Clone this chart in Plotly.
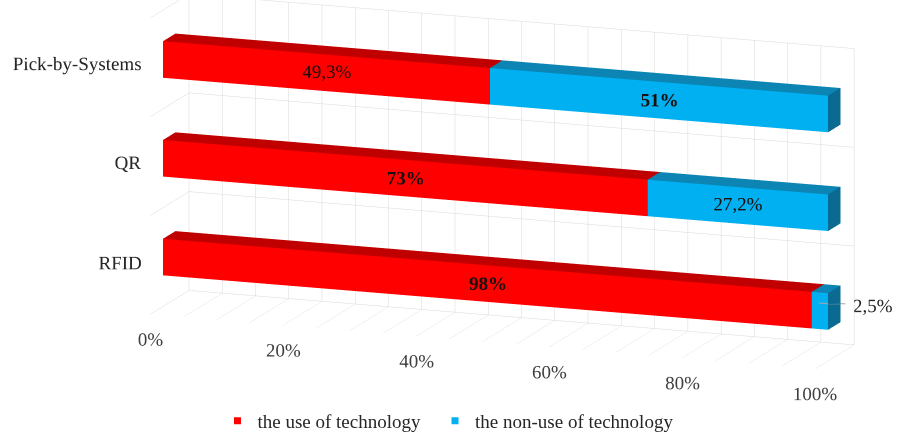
import numpy as np
import plotly.graph_objects as go

# ---------------- data ----------------
categories = ["RFID", "QR", "Pick-by-Systems"]
use_vals = [98, 73, 49.3]
nonuse_vals = [2.5, 27.2, 51]
use_labels = ["98%", "73%", "49,3%"]
nonuse_labels = ["2,5%", "27,2%", "51%"]
use_bold = [True, True, False]
nonuse_bold = [False, False, True]
x_tick_vals = [0, 20, 40, 60, 80, 100]
x_tick_text = ["0%", "20%", "40%", "60%", "80%", "100%"]
series_names = ["the use of technology", "the non-use of technology"]

FONT = "Liberation Serif, Times New Roman, serif"
RED = dict(front="#FF0000", top="#C00000", side="#A00000")
BLUE = dict(front="#00B0F0", top="#0C84B4", side="#0A6A92")

K_SCALE = 1.28
ASP = dict(x=2.56 * K_SCALE, y=0.41 * K_SCALE, z=1.10 * K_SCALE)
XR, YR, ZR = (0, 100), (0, 1), (0, 3)
BAR_Y = (0.33, 0.65)   # depth span of bars
BAR_HALF = 0.185       # half height of bars in category units

# camera (orthographic)
AZ, EL = np.radians(20.0), np.radians(13.0)
direction = np.array([np.sin(AZ) * np.cos(EL), -np.cos(AZ) * np.cos(EL), np.sin(EL)])
right_v = np.cross(-direction, [0, 0, 1]); right_v /= np.linalg.norm(right_v)
up_v = np.cross(right_v, -direction); up_v /= np.linalg.norm(up_v)
dist = 2.0
center = -0.23 * right_v - 0.16 * up_v
eye = center + direction * dist


def slide(x, y, z, y_target):
    """slide a point along the line of sight (same screen spot) to depth y_target."""
    dys = (y_target - y) / (YR[1] - YR[0]) * ASP["y"]
    s = dys / direction[1]
    return (x + s * direction[0] / ASP["x"] * (XR[1] - XR[0]),
            y_target,
            z + s * direction[2] / ASP["z"] * (ZR[1] - ZR[0]))


def box_mesh(segs, col):
    xs, ys, zs, I, J, K, fc = [], [], [], [], [], [], []
    faces = [((0, 1, 5), "front"), ((0, 5, 4), "front"),
             ((3, 2, 6), "side"), ((3, 6, 7), "side"),
             ((0, 1, 2), "side"), ((0, 2, 3), "side"),
             ((4, 5, 6), "top"), ((4, 6, 7), "top"),
             ((0, 3, 7), "side"), ((0, 7, 4), "side"),
             ((1, 2, 6), "side"), ((1, 6, 5), "side")]
    for (x0, x1, zc_) in segs:
        y0, y1 = BAR_Y
        z0, z1 = zc_ - BAR_HALF, zc_ + BAR_HALF
        base = len(xs)
        for (a, b, c) in [(x0, y0, z0), (x1, y0, z0), (x1, y1, z0), (x0, y1, z0),
                          (x0, y0, z1), (x1, y0, z1), (x1, y1, z1), (x0, y1, z1)]:
            xs.append(a); ys.append(b); zs.append(c)
        for (t, kind) in faces:
            I.append(base + t[0]); J.append(base + t[1]); K.append(base + t[2])
            fc.append(col[kind])
    return go.Mesh3d(x=xs, y=ys, z=zs, i=I, j=J, k=K, facecolor=fc,
                     flatshading=True, hoverinfo="skip", showlegend=False,
                     lighting=dict(ambient=1, diffuse=0, specular=0, roughness=1, fresnel=0))


totals = [u + n for u, n in zip(use_vals, nonuse_vals)]
use_pct = [u / t * 100 for u, t in zip(use_vals, totals)]
zc = [i + 0.5 for i in range(len(categories))]

red_segs = [(0, p, z) for p, z in zip(use_pct, zc)]
blue_segs = [(p, 100, z) for p, z in zip(use_pct, zc)]

fig = go.Figure()
fig.add_trace(box_mesh(red_segs, RED))
fig.add_trace(box_mesh(blue_segs, BLUE))

# data labels
lab = {"bold": dict(x=[], y=[], z=[], t=[]), "normal": dict(x=[], y=[], z=[], t=[])}
out_lab = dict(x=[], y=[], z=[], t=[])
lead = dict(x=[], y=[], z=[])
YF = 0.01
YB = 0.99


def add_lab(key, x, z, t):
    px, py, pz = slide(x, BAR_Y[0], z, YF)
    lab[key]["x"].append(px); lab[key]["y"].append(py); lab[key]["z"].append(pz)
    lab[key]["t"].append(t)


for k in range(len(categories)):
    p = use_pct[k]
    add_lab("bold" if use_bold[k] else "normal", p / 2, zc[k], use_labels[k])
    share = 100 - p
    if share < 5:
        zl = zc[k] + 0.08
        # part over the front face (just in front of it)
        lead["x"] += [p + share * 0.45, 100, None]
        lead["y"] += [BAR_Y[0] - 0.005, BAR_Y[0] - 0.005, None]
        lead["z"] += [zl, zl, None]
        # part over the end face (x = 100 plane), kept level on screen
        dy = 0.45
        lead["x"] += [100, 100, None]
        lead["y"] += [BAR_Y[0] - 0.005, BAR_Y[0] - 0.005 + dy, None]
        lead["z"] += [zl, zl - dy * (ASP["y"] / (YR[1] - YR[0])) * up_v[1] /
                      (ASP["z"] / (ZR[1] - ZR[0])) / up_v[2], None]
        c = slide(101.0, BAR_Y[0], zc[k] + 0.05, YB)
        out_lab["x"].append(min(c[0], 99.95)); out_lab["y"].append(c[1]); out_lab["z"].append(c[2])
        out_lab["t"].append(nonuse_labels[k])
    else:
        add_lab("bold" if nonuse_bold[k] else "normal", p + share / 2, zc[k], nonuse_labels[k])

for key, d in lab.items():
    fig.add_trace(go.Scatter3d(x=d["x"], y=d["y"], z=d["z"], text=d["t"], mode="text",
                               textposition="middle center", hoverinfo="skip", showlegend=False,
                               textfont=dict(family=FONT, size=19, color="#1a1010", weight=key)))
fig.add_trace(go.Scatter3d(x=lead["x"], y=lead["y"], z=lead["z"], mode="lines",
                           line=dict(color="#A6A6A6", width=2), hoverinfo="skip", showlegend=False))
fig.add_trace(go.Scatter3d(x=out_lab["x"], y=out_lab["y"], z=out_lab["z"], text=out_lab["t"],
                           mode="text", textposition="middle right", hoverinfo="skip", showlegend=False,
                           textfont=dict(family=FONT, size=19, color="#262626")))

# category labels (anchored on the left wall, a little behind its front edge)
fig.add_trace(go.Scatter3d(x=[0.001] * len(categories), y=[0.25] * len(categories),
                           z=[z - 0.04 for z in zc],
                           text=categories, mode="text", textposition="middle left",
                           hoverinfo="skip", showlegend=False,
                           textfont=dict(family=FONT, size=19, color="#262626")))
# value axis labels
fig.add_trace(go.Scatter3d(x=x_tick_vals, y=[0.001] * len(x_tick_vals), z=[0.001] * len(x_tick_vals),
                           text=x_tick_text, mode="text", textposition="bottom center",
                           hoverinfo="skip", showlegend=False,
                           textfont=dict(family=FONT, size=19, color="#404040")))

# legend entries (first name padded with no-break spaces for the wider item gap)
legend_names = [series_names[0] + "\u00a0\u00a0", series_names[1]]
for name, col in zip(legend_names, [RED["front"], BLUE["front"]]):
    fig.add_trace(go.Scatter3d(x=[None], y=[None], z=[None], mode="markers", name=name,
                               marker=dict(symbol="square", size=7, color=col)))

ax_common = dict(showbackground=False, zeroline=False, showline=False, ticks="",
                 showticklabels=False, title=dict(text=""), showspikes=False,
                 gridcolor="#D9D9D9", gridwidth=1)
fig.update_layout(
    width=905, height=432,
    margin=dict(l=0, r=0, t=0, b=0, autoexpand=False),
    paper_bgcolor="white",
    font=dict(family=FONT, size=19, color="#262626"),
    hovermode=False,
    showlegend=True,
    legend=dict(orientation="h", x=0.495, xanchor="center", y=-0.018, yanchor="bottom",
                font=dict(family=FONT, size=19, color="#262626"), bgcolor="rgba(0,0,0,0)"),
    scene=dict(
        domain=dict(x=[0, 1], y=[0, 1]),
        aspectmode="manual", aspectratio=ASP,
        xaxis=dict(range=list(XR), tickvals=list(range(0, 101, 5)), showgrid=True, **ax_common),
        yaxis=dict(range=list(YR), showgrid=False, **ax_common),
        zaxis=dict(range=list(ZR), tickvals=[0, 1, 2, 3], showgrid=True, **ax_common),
        camera=dict(projection=dict(type="orthographic"),
                    eye=dict(x=eye[0], y=eye[1], z=eye[2]),
                    center=dict(x=center[0], y=center[1], z=center[2]),
                    up=dict(x=0, y=0, z=1)),
    ),
)
fig.write_html("out.html")
